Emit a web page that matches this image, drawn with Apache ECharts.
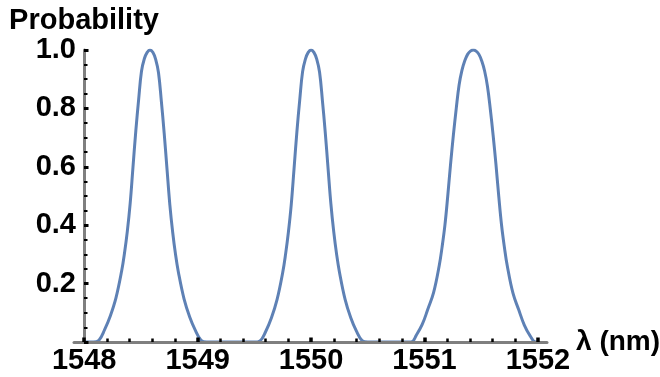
<!DOCTYPE html>
<html>
<head>
<meta charset="utf-8">
<script src="https://cdn.jsdelivr.net/npm/echarts@6/dist/echarts.min.js"></script>
<style>
  html, body { margin: 0; padding: 0; background: #fff; }
</style>
</head>
<body>
<div id="chart" style="width: 660px; height: 377px"></div>
<script>
// wavelength (nm)
const waveNm = [
  1548.00,
  1548.08, 1548.13, 1548.18, 1548.23, 1548.28, 1548.33, 1548.355, 1548.38, 1548.405, 1548.43, 1548.455,
  1548.48, 1548.505, 1548.53, 1548.555, 1548.58, 1548.605, 1548.63, 1548.655, 1548.68, 1548.705,
  1548.73, 1548.755, 1548.78, 1548.805, 1548.83, 1548.88, 1548.93, 1548.98, 1549.03, 1549.08,
  1549.50, 1549.55, 1549.60, 1549.65, 1549.70, 1549.75, 1549.775, 1549.80, 1549.825, 1549.85, 1549.875,
  1549.90, 1549.925, 1549.95, 1549.975, 1550.00, 1550.025, 1550.05, 1550.075, 1550.10, 1550.125,
  1550.15, 1550.175, 1550.20, 1550.225, 1550.25, 1550.30, 1550.35, 1550.40, 1550.45, 1550.50,
  1550.88, 1550.93, 1550.98, 1551.03, 1551.08, 1551.13, 1551.155, 1551.18, 1551.205, 1551.23, 1551.255,
  1551.28, 1551.305, 1551.33, 1551.355, 1551.38, 1551.405, 1551.43, 1551.455, 1551.48, 1551.505,
  1551.53, 1551.555, 1551.58, 1551.605, 1551.63, 1551.655, 1551.68, 1551.705, 1551.73, 1551.78,
  1551.83, 1551.88, 1551.93, 1551.98,
  1552.00
]
const probability = [
  0,
  0, 0.006, 0.042, 0.089, 0.151, 0.243, 0.304, 0.379, 0.474, 0.599, 0.723,
  0.831, 0.927, 0.970, 0.992, 1.0, 0.992, 0.968, 0.922, 0.825, 0.715,
  0.592, 0.470, 0.376, 0.300, 0.240, 0.148, 0.086, 0.040, 0.006, 0,
  0, 0.004, 0.036, 0.082, 0.145, 0.238, 0.300, 0.376, 0.470, 0.594, 0.720,
  0.828, 0.925, 0.969, 0.992, 1.0, 0.992, 0.969, 0.924, 0.827, 0.718,
  0.594, 0.472, 0.377, 0.301, 0.240, 0.146, 0.083, 0.037, 0.005, 0,
  0, 0.025, 0.060, 0.113, 0.169, 0.262, 0.325, 0.400, 0.500, 0.610, 0.710,
  0.800, 0.880, 0.930, 0.963, 0.985, 0.996, 1.0, 0.996, 0.985, 0.962,
  0.928, 0.876, 0.798, 0.708, 0.608, 0.498, 0.398, 0.323, 0.260, 0.167,
  0.111, 0.058, 0.022, 0,
  0
]

const xLabelValues = [1548, 1549, 1550, 1551, 1552]
const xMinorTicks  = [1548.2, 1548.4, 1548.6, 1548.8, 1549.2, 1549.4, 1549.6, 1549.8,
                      1550.2, 1550.4, 1550.6, 1550.8, 1551.2, 1551.4, 1551.6, 1551.8]

const font = { fontFamily: 'Liberation Sans, Arial, sans-serif', fontSize: 29, fontWeight: 'bold', color: '#000' }
const axisGray = '#7f7f7f'

const chart = echarts.init(document.getElementById('chart'))
chart.setOption({
  animation: false,
  grid: { left: 74, right: 113, top: 50, bottom: 35, outerBoundsMode: 'none' },
  xAxis: [{
    type: 'value',
    min: 1547.91,
    max: 1552.08,
    position: 'bottom',
    z: 10,
    name: 'λ (nm)',
    nameLocation: 'end',
    nameGap: 18,
    nameTextStyle: { ...font, fontSize: 28, align: 'left', verticalAlign: 'middle' },
    axisLine: { show: true, onZero: false, lineStyle: { color: axisGray, width: 3 } },
    axisTick: { show: true, inside: true, length: 3.5, customValues: xMinorTicks, lineStyle: { color: '#000', width: 2.5 } },
    axisLabel: { ...font, margin: 4, customValues: xLabelValues, formatter: v => String(Math.round(v)) },
    splitLine: { show: false },
  }, {
    type: 'value',
    min: 1547.91,
    max: 1552.08,
    position: 'bottom',
    z: 11,
    axisLine: { show: false },
    axisTick: { show: true, inside: true, length: 4.5, customValues: xLabelValues, lineStyle: { color: '#000', width: 3.5 } },
    axisLabel: { show: false },
    splitLine: { show: false },
  }],
  yAxis: {
    type: 'value',
    min: 0,
    max: 1,
    interval: 0.2,
    offset: -10,
    z: 10,
    name: 'Probability',
    nameLocation: 'end',
    nameGap: 29,
    nameTextStyle: { ...font, align: 'center', verticalAlign: 'middle' },
    axisLine: { show: true, onZero: false, lineStyle: { color: axisGray, width: 3 } },
    axisTick: { show: true, inside: true, length: 4.5, lineStyle: { color: '#000', width: 3 } },
    minorTick: { show: true, splitNumber: 4, length: 3.5, lineStyle: { color: '#000', width: 2 } },
    axisLabel: { ...font, margin: 8, showMinLabel: false, formatter: v => v.toFixed(1) },
    splitLine: { show: false },
    minorSplitLine: { show: false },
  },
  series: [{
    type: 'line',
    showSymbol: false,
    smooth: 0.4,
    z: 2,
    lineStyle: { color: '#5E81B5', width: 3 },
    data: waveNm.map((x, i) => [x, probability[i]]),
  }],
})
</script>
</body>
</html>
